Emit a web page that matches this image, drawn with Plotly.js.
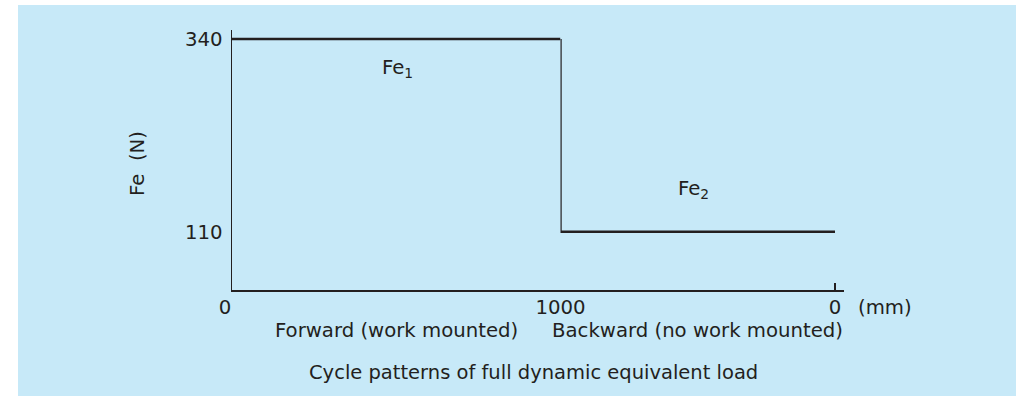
<!DOCTYPE html>
<html>
<head>
<meta charset="utf-8">
<script src="https://cdn.plot.ly/plotly-3.0.1.min.js"></script>
<style>
  html, body { margin: 0; padding: 0; background: #ffffff; }
  #chartContainer { width: 1020px; height: 396px; }
</style>
</head>
<body>
<div id="chartContainer"></div>
<script>
// forward stroke (work mounted), position in mm / load in N
var fwdPos = [0, 1000];
var fwdLoad = [340, 340];

// backward stroke (no work mounted), starts with the drop at 1000 mm
var bwdPos = [1000, 1000, 0];
var bwdLoad = [340, 110, 110];

var loadTicks = [110, 340];
var fwdTicks = [0];
var bwdTicks = [1000, 0];

var ink = '#231f20';
var font = 'DejaVu Sans';
var fs = 19.7;

// plot area in pixels: left 232, right 844, top 30, bottom 290
var L = 232, R = 844, T = 30, B = 290;
function px(x) { return (x - L) / (R - L); }
function py(y) { return (B - y) / (B - T); }

var trace0 = {
    x: fwdPos,
    y: fwdLoad,
    xaxis: 'x',
    yaxis: 'y',
    type: 'scatter',
    mode: 'lines',
    line: {color: ink, width: 2.4},
    hoverinfo: 'skip'
};

var trace1 = {
    x: bwdPos,
    y: bwdLoad,
    xaxis: 'x2',
    yaxis: 'y',
    type: 'scatter',
    mode: 'lines',
    line: {color: ink, width: 2.4},
    hoverinfo: 'skip'
};

var data = [trace0, trace1];

function ann(text, x, y, size, extra) {
    var a = {
        text: text,
        xref: 'paper', yref: 'paper',
        x: px(x), y: py(y),
        xanchor: 'center', yanchor: 'middle',
        showarrow: false,
        font: {family: font, size: size, color: ink}
    };
    for (var k in extra) a[k] = extra[k];
    return a;
}

var split = (560.5 - L) / (R - L);

var layout = {
    width: 1020,
    height: 396,
    margin: {l: L, r: 1020 - R, t: T, b: 396 - B, pad: 0},
    paper_bgcolor: '#ffffff',
    plot_bgcolor: 'rgba(0,0,0,0)',
    showlegend: false,
    font: {family: font, size: fs, color: ink},
    xaxis: {
        domain: [0, split],
        range: [0, 1000],
        showgrid: false,
        zeroline: false,
        showline: true,
        linecolor: ink,
        linewidth: 1.5,
        tickvals: fwdTicks,
        ticktext: ['0'],
        ticks: '',
        ticklabelshift: -7,
        ticklabelstandoff: -1,
        tickfont: {family: font, size: fs, color: ink},
        fixedrange: true
    },
    xaxis2: {
        domain: [split, 1],
        range: [1000, -32.8],
        anchor: 'y',
        showgrid: false,
        zeroline: false,
        showline: true,
        linecolor: ink,
        linewidth: 1.5,
        tickvals: bwdTicks,
        ticktext: ['1000', '0'],
        ticks: 'inside',
        ticklen: 7,
        tickwidth: 1.2,
        tickcolor: ink,
        ticklabelstandoff: -1,
        tickfont: {family: font, size: fs, color: ink},
        fixedrange: true
    },
    yaxis: {
        type: 'log',
        range: [1.8932, 2.5544],
        showgrid: false,
        zeroline: false,
        showline: true,
        linecolor: ink,
        linewidth: 1.5,
        tickvals: loadTicks,
        ticktext: ['110', '340'],
        ticks: '',
        ticklabelstandoff: 4,
        tickfont: {family: font, size: fs, color: ink},
        fixedrange: true
    },
    shapes: [
        {
            type: 'rect',
            xref: 'paper', yref: 'paper',
            x0: px(18), x1: px(1016),
            y0: py(397), y1: py(5),
            fillcolor: '#c7e9f8',
            line: {width: 0},
            layer: 'below'
        }
    ],
    annotations: [
        ann('Fe<sub>1</sub>', 397, 68, fs),
        ann('Fe<sub>2</sub>', 693, 189, fs),
        ann('Fe  (N)', 137, 164, fs, {textangle: -90}),
        ann('(mm)', 885, 307, fs),
        ann('Forward (work mounted)', 396, 331, fs),
        ann('Backward (no work mounted)', 697.5, 331, fs),
        ann('Cycle patterns of full dynamic equivalent load', 533.5, 372, 19.5)
    ]
};

Plotly.newPlot('chartContainer', data, layout, {displayModeBar: false, staticPlot: true});
</script>
</body>
</html>
